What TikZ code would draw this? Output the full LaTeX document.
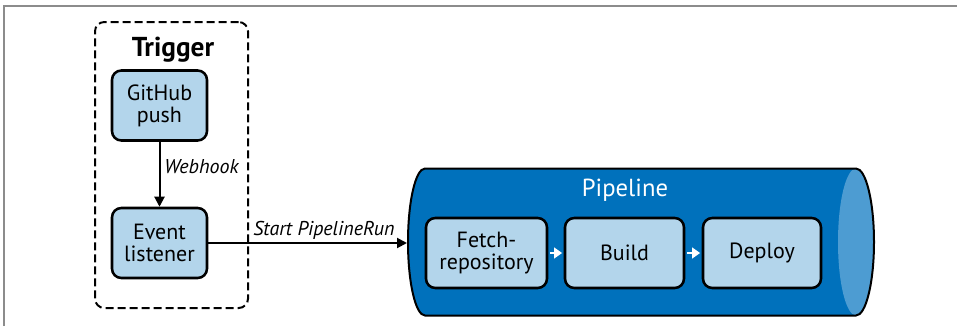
\documentclass[tikz,border=0pt]{standalone}
\usepackage{fontspec}
\setmainfont{PT Sans}
\usetikzlibrary{arrows.meta}
\definecolor{boxblue}{HTML}{B3D5EB}
\definecolor{pipeblue}{HTML}{0071BC}
\definecolor{capblue}{HTML}{4D9CD2}
\definecolor{framegray}{HTML}{8C8C8C}
\begin{document}
\begin{tikzpicture}[x=0.75pt,y=-0.75pt,
  stepbox/.style={draw=black, line width=1.9pt, fill=boxblue, rounded corners=7pt,
    align=center, font=\fontsize{16.5}{16.5}\selectfont, inner sep=0pt, minimum height=52.5pt},
  lbl/.style={font=\fontsize{15}{16}\selectfont\itshape, inner sep=0pt},
  arr/.style={line width=1.5pt, -{Triangle[length=7.5pt,width=7.5pt]}},
  warr/.style={white, line width=2pt, -{Triangle[length=6pt,width=8pt]}, shorten <=1.2pt, shorten >=1.2pt},
  grp/.style={draw=black, line width=1.5pt, dash pattern=on 6pt off 3pt, rounded corners=7pt,
    minimum width=114.75pt, minimum height=214.5pt, inner sep=0pt}
]
\useasboundingbox (0,0) rectangle (957,326);
% frame
\draw[framegray, line width=1.5pt] (4,326) -- (4,6) -- (957,6);

% trigger group
\node (trig) [grp] at (171.5,165) {};
\node (trigt) [anchor=base, font=\fontsize{20.5}{21}\selectfont\bfseries, inner sep=0pt] at (173,56) {Trigger};
\node (gh) [stepbox, minimum width=71.25pt] at (159.5,105.5) {GitHub\\push};
\node (ev) [stepbox, minimum width=71.25pt] at (159.5,243) {Event\\listener};
\draw[arr] (gh) -- (ev);
\node (wh) [lbl, anchor=base west] at (164,173) {Webhook};

% pipeline cylinder
\fill[pipeblue] (425,168.5) -- (856,168.5)
  .. controls (865.9,168.5) and (874,201.4) .. (874,242)
  .. controls (874,282.6) and (865.9,315.5) .. (856,315.5)
  -- (425,315.5)
  .. controls (415.6,315.5) and (408,282.6) .. (408,242)
  .. controls (408,201.4) and (415.6,168.5) .. cycle;
\fill[capblue] (856,242) ellipse [x radius=13.5pt, y radius=55.1pt];
\draw[line width=1.5pt, line join=round] (425,168.5) -- (856,168.5)
  .. controls (865.9,168.5) and (874,201.4) .. (874,242)
  .. controls (874,282.6) and (865.9,315.5) .. (856,315.5)
  -- (425,315.5)
  .. controls (415.6,315.5) and (408,282.6) .. (408,242)
  .. controls (408,201.4) and (415.6,168.5) .. cycle;
\coordinate (pipein) at (407,243);
\node (pipet) [anchor=base, white, font=\fontsize{18.5}{19}\selectfont, inner sep=0pt] at (625,196) {Pipeline};

\node (fetch) [stepbox, minimum width=90.75pt] at (486.5,253) {Fetch-\\repository};
\node (build) [stepbox, minimum width=89.25pt] at (624.5,253) {Build};
\node (deploy) [stepbox, minimum width=88.5pt] at (762,253) {Deploy};
\draw[warr] (fetch) -- (build);
\draw[warr] (build) -- (deploy);

\draw[arr] (ev) -- (pipein);
\node (spr) [lbl, anchor=base west] at (253,235) {Start PipelineRun};
\end{tikzpicture}
\end{document}
